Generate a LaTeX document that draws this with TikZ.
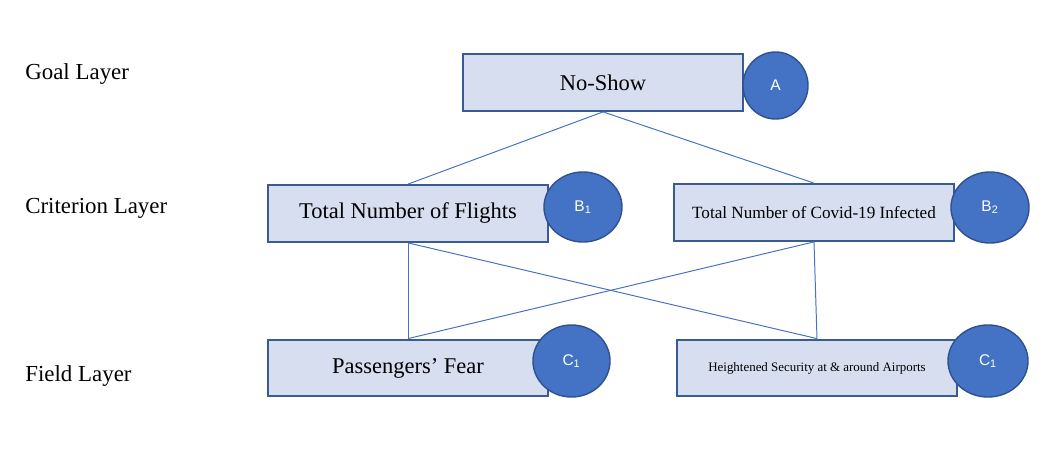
\documentclass[tikz,border=0pt]{standalone}
\usepackage{fontspec}
\setmainfont{Liberation Serif}
\newfontfamily\badgefont{Liberation Sans}
\usetikzlibrary{shapes.geometric}
\definecolor{boxfill}{HTML}{D6DEF0}
\definecolor{boxline}{HTML}{3A5A94}
\definecolor{dotfill}{HTML}{4472C4}
\definecolor{dotline}{HTML}{2F528F}
\definecolor{linkline}{HTML}{4472C4}
\begin{document}
\begin{tikzpicture}[x=0.025cm,y=-0.025cm,
  layer/.style={anchor=base west,inner sep=0pt,font=\fontsize{16.3}{19}\selectfont},
  box/.style={draw=boxline,fill=boxfill,line width=1.4pt,minimum width=7cm,minimum height=1.42cm,inner sep=0pt,font=\fontsize{16}{19}\selectfont},
  badge/.style={ellipse,draw=dotline,fill=dotfill,line width=1pt,text=white,inner sep=0pt,font=\badgefont\fontsize{11}{13}\selectfont},
  link/.style={draw=linkline,line width=0.7pt}]
\useasboundingbox (0,0) rectangle (1061,460);

\node[layer] (goallbl) at (25,79) {Goal Layer};
\node[layer] (critlbl) at (25,213) {Criterion Layer};
\node[layer] (fieldlbl) at (25,381) {Field Layer};

\node[box] (goal) at (603,82.5) {No-Show};
\node[box] (crit1) at (408,213.5) {Total Number of Flights};
\node[box,font=\fontsize{12.2}{14}\selectfont] (crit2) at (814,212.5) {Total Number of Covid-19 Infected};
\node[box] (field1) at (408,368) {Passengers’ Fear};
\node[box,font=\fontsize{9.2}{11}\selectfont] (field2) at (817,368) {Heightened Security at \& around Airports};

\node[badge,minimum width=1.625cm,minimum height=1.675cm] (badgeA) at (775.5,85.5) {A};
\node[badge,minimum width=1.95cm,minimum height=1.75cm] (badgeB1) at (583,207) {B\textsubscript{1}};
\node[badge,minimum width=1.95cm,minimum height=1.775cm] (badgeB2) at (990,207.5) {B\textsubscript{2}};
\node[badge,minimum width=1.925cm,minimum height=1.8cm] (badgeC1) at (571.5,361) {C\textsubscript{1}};
\node[badge,minimum width=2cm,minimum height=1.8cm] (badgeC2) at (988,361) {C\textsubscript{1}};

\draw[link] (goal.south) -- (crit1.north);
\draw[link] (goal.south) -- (crit2.north);
\draw[link] (crit1.south) -- (field1.north);
\draw[link] (crit1.south) -- (field2.north);
\draw[link] (crit2.south) -- (field2.north);
\draw[link] (crit2.south) -- (field1.north);
\end{tikzpicture}
\end{document}
